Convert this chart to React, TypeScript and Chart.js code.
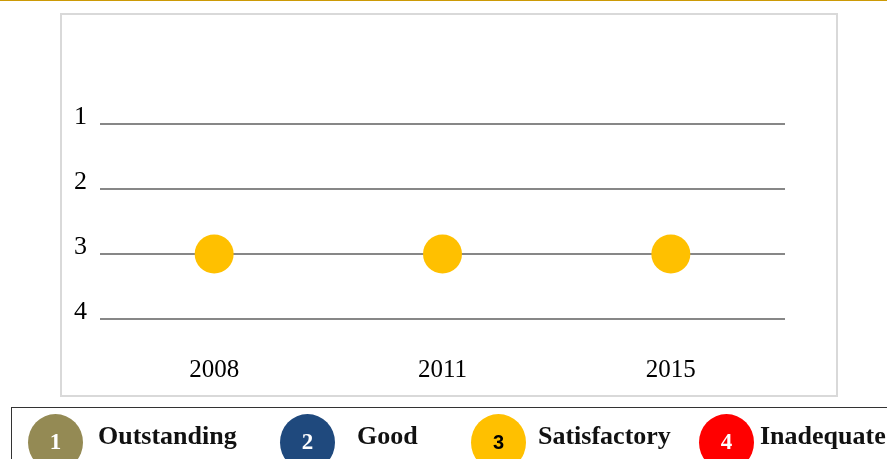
import React, { useEffect, useRef } from "react";
import { Chart, registerables } from "chart.js";

Chart.register(...registerables);

const years = ["2008", "2011", "2015"];
const ratings = [3, 3, 3];
const ratingTicks = [1, 2, 3, 4];
const legendNumbers = ["1", "2", "3", "4"];
const legendLabels = ["Outstanding", "Good", "Satisfactory", "Inadequate"];
const legendColors = ["#948A54", "#1F497D", "#FFC000", "#FF0000"];
const legendNumberColors = ["#ffffff", "#ffffff", "#000000", "#ffffff"];

const circleLeft = [28, 280, 471, 699];
const labelLeft = [98, 357, 538, 760];

export default function App() {
  const canvasRef = useRef<HTMLCanvasElement | null>(null);

  useEffect(() => {
    const canvas = canvasRef.current;
    if (!canvas) return;
    const chart = new Chart(canvas, {
      type: "line",
      data: {
        labels: years,
        datasets: [
          {
            data: ratings,
            showLine: false,
            pointRadius: 19.5,
            pointHoverRadius: 19.5,
            pointBackgroundColor: "#FFC000",
            pointBorderColor: "#FFC000",
            pointBorderWidth: 0,
          },
          {
            data: ratings,
            showLine: false,
            pointRadius: 3.5,
            pointHoverRadius: 3.5,
            pointBackgroundColor: "rgba(0,0,0,0)",
            pointBorderColor: "rgba(255,255,255,0.35)",
            pointBorderWidth: 1,
          },
        ],
      },
      options: {
        responsive: false,
        animation: false,
        events: [],
        layout: { padding: { left: 60, right: 102, top: 124, bottom: 80 } },
        plugins: { legend: { display: false }, tooltip: { enabled: false } },
        scales: {
          x: {
            type: "category",
            offset: true,
            grid: { display: false, drawTicks: false },
            border: { display: false },
            afterFit: (s: any) => {
              s.height = 60;
            },
            ticks: {
              padding: 36,
              color: "#000000",
              font: { family: "'Liberation Serif', serif", size: 25 },
            },
          },
          y: {
            type: "linear",
            reverse: true,
            min: 1,
            max: 4,
            afterFit: (s: any) => {
              s.width = 40;
            },
            afterBuildTicks: (s: any) => {
              s.ticks = ratingTicks.map((v) => ({ value: v }));
            },
            grid: { color: "#878787", lineWidth: 2, drawTicks: false },
            border: { display: false },
            ticks: {
              stepSize: 1,
              padding: 13,
              labelOffset: -7,
              color: "#000000",
              font: { family: "'Liberation Serif', serif", size: 26 },
            },
          },
        },
      },
    } as any);
    return () => chart.destroy();
  }, []);

  return (
    <div
      style={{
        position: "fixed",
        left: 0,
        top: 0,
        width: 887,
        height: 459,
        overflow: "hidden",
        background: "#ffffff",
      }}
    >
      <div
        style={{
          position: "absolute",
          left: 0,
          top: 0,
          width: 887,
          height: 1,
          background: "#CC9A06",
        }}
      />
      <div
        style={{
          position: "absolute",
          left: 60,
          top: 13,
          width: 778,
          height: 384,
          boxSizing: "border-box",
          border: "2px solid #D9D9D9",
        }}
      />
      <canvas
        ref={canvasRef}
        width={887}
        height={459}
        style={{ position: "absolute", left: 0, top: 0, width: 887, height: 459 }}
      />
      <div
        style={{
          position: "absolute",
          left: 11,
          top: 407,
          width: 920,
          height: 100,
          boxSizing: "border-box",
          border: "1.5px solid #333333",
        }}
      />
      {legendLabels.map((label, i) => (
        <React.Fragment key={label}>
          <div
            style={{
              position: "absolute",
              left: circleLeft[i],
              top: 414,
              width: 55,
              height: 57,
              borderRadius: "50%",
              background: legendColors[i],
              color: legendNumberColors[i],
              display: "flex",
              alignItems: "flex-start",
              justifyContent: "center",
              boxSizing: "border-box",
              paddingTop: 16,
              fontFamily:
                i === 2 ? "'Liberation Sans', Arial, sans-serif" : "'Liberation Serif', serif",
              fontWeight: "bold",
              fontSize: i === 2 ? 20 : 23,
              lineHeight: "24px",
            }}
          >
            {legendNumbers[i]}
          </div>
          <div
            style={{
              position: "absolute",
              left: labelLeft[i],
              top: 423,
              fontFamily: "'Liberation Serif', serif",
              fontWeight: "bold",
              fontSize: 26,
              lineHeight: "26px",
              color: "#111111",
              whiteSpace: "nowrap",
            }}
          >
            {label}
          </div>
        </React.Fragment>
      ))}
    </div>
  );
}
